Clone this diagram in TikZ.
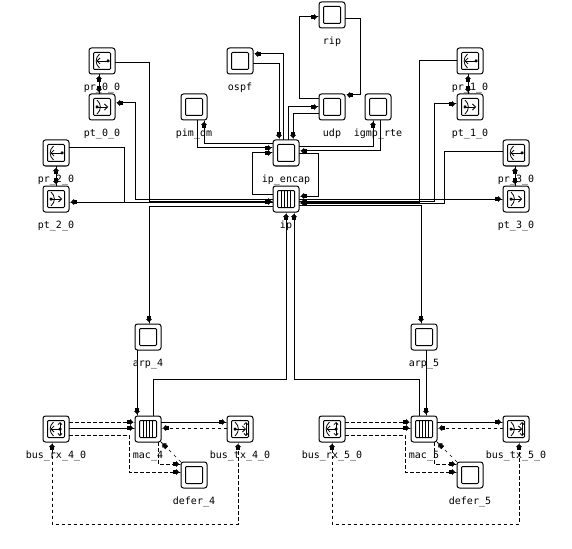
\documentclass[tikz,border=0pt]{standalone}
\usepackage{fontspec}
\usetikzlibrary{arrows.meta,positioning}
\setmonofont{DejaVu Sans Mono}
\newcommand{\inbox}{\draw[line width=1pt,rounded corners=1pt] (-8.5,-8.5) rectangle (8.5,8.5);}
\newcommand{\qbars}{\foreach \bx in {-4.5,-1.5,1.5,4.5} {\draw[line width=1pt] (\bx,-8.5) -- (\bx,8.5);}}
\newcommand{\rxmark}[1]{\draw[line width=.8pt] (-2.5,-7) .. controls (-7,-3) and (-7,3) .. (-2.5,7);
  \draw[line width=.8pt,-{Straight Barb[length=3pt,width=6pt]}] (#1,0) -- (-5.5,0);
  \fill (#1,0) +(-1.5,-1.5) rectangle +(1.5,1.5);}
\newcommand{\txmark}[1]{\draw[line width=.8pt] (-5,-7) .. controls (-.5,-3) and (-.5,3) .. (-5,7);
  \draw[line width=.8pt,-{Straight Barb[length=3pt,width=6pt]}] (-5,0) -- (#1,0);
  \fill (-5,0) +(-1.5,-1.5) rectangle +(1.5,1.5);}
\newcommand{\busmark}[1]{\draw[line width=.8pt,{Straight Barb[length=2pt,width=4pt]}-{Straight Barb[length=2pt,width=4pt]}] (#1,-7) -- (#1,7);}
\tikzset{
  pin/.tip={Rectangle[length=3pt,width=4pt]Triangle[length=3pt,width=6pt]Rectangle[length=2pt,width=1pt]},
  modu/.style={draw,line width=1pt,rounded corners=2.5pt,minimum size=26pt,inner sep=0pt,outer sep=0pt},
  plain/.style={modu,path picture={\begin{scope}[shift={(path picture bounding box.center)}]\inbox\end{scope}}},
  queue/.style={modu,path picture={\begin{scope}[shift={(path picture bounding box.center)}]\inbox\qbars\end{scope}}},
  recv/.style={modu,path picture={\begin{scope}[shift={(path picture bounding box.center)}]\inbox\rxmark{6}\end{scope}}},
  xmit/.style={modu,path picture={\begin{scope}[shift={(path picture bounding box.center)}]\inbox\txmark{6}\end{scope}}},
  busrx/.style={modu,path picture={\begin{scope}[shift={(path picture bounding box.center)}]\inbox\rxmark{4}\busmark{4}\end{scope}}},
  bustx/.style={modu,path picture={\begin{scope}[shift={(path picture bounding box.center)}]\inbox\txmark{6}\busmark{6}\end{scope}}},
  arr/.style={-pin,draw=black,line width=1pt},
  dasharr/.style={arr,dash pattern=on 3.5pt off 2.5pt},
  busarr/.style={pin-pin,draw=black,line width=1pt,dash pattern=on 3.5pt off 2.5pt}
}

\begin{document}
\begin{tikzpicture}[x=1pt,y=-1pt,label distance=9pt,
  every label/.style={font=\ttfamily\fontsize{10pt}{10pt}\selectfont,text height=7pt,text depth=2pt,inner sep=0pt}]
  \useasboundingbox (0,0) rectangle (572,548);
  % core
  \node[plain,label=below:ip\_encap] (ipenc) at (286,153) {};
  \node[queue,label=below:ip,below=20pt of ipenc] (ip) {};
  \node[plain,label=below:udp,above right=20pt and 20pt of ipenc] (udp) {};
  \node[plain,label=below:rip,above=66pt of udp] (rip) {};
  \node[plain,label=below:igmp\_rte,right=20pt of udp] (igmp) {};
  \node[plain,label=below:pim\_dm,above left=20pt and 66pt of ipenc] (pim) {};
  \node[plain,label=below:ospf,above left=66pt and 20pt of ipenc] (ospf) {};
  % point to point links
  \node[xmit,label=below:pt\_0\_0,left=66pt of pim] (pt00) {};
  \node[recv,label=below:pr\_0\_0,above=20pt of pt00] (pr00) {};
  \node[xmit,label=below:pt\_1\_0,right=66pt of igmp] (pt10) {};
  \node[recv,label=below:pr\_1\_0,above=20pt of pt10] (pr10) {};
  \node[xmit,label=below:pt\_2\_0,left=204pt of ip] (pt20) {};
  \node[recv,label=below:pr\_2\_0,above=20pt of pt20] (pr20) {};
  \node[xmit,label=below:pt\_3\_0,right=204pt of ip] (pt30) {};
  \node[recv,label=below:pr\_3\_0,above=20pt of pt30] (pr30) {};
  % bus sides
  \node[plain,label=below:arp\_4,below left=112pt and 112pt of ip] (arp4) {};
  \node[plain,label=below:arp\_5,below right=112pt and 112pt of ip] (arp5) {};
  \node[queue,label=below:mac\_4,below=66pt of arp4] (mac4) {};
  \node[queue,label=below:mac\_5,below=66pt of arp5] (mac5) {};
  \node[busrx,label=below:bus\_rx\_4\_0,left=66pt of mac4] (rx4) {};
  \node[bustx,label=below:bus\_tx\_4\_0,right=66pt of mac4] (tx4) {};
  \node[plain,label=below:defer\_4,below right=20pt and 20pt of mac4] (defer4) {};
  \node[busrx,label=below:bus\_rx\_5\_0,left=66pt of mac5] (rx5) {};
  \node[bustx,label=below:bus\_tx\_5\_0,right=66pt of mac5] (tx5) {};
  \node[plain,label=below:defer\_5,below right=20pt and 20pt of mac5] (defer5) {};
  % routing modules
  \draw[arr] ([yshift=8pt]udp.west) -| (299.5,17) -- ([yshift=-2pt]rip.west);
  \draw[arr] ([yshift=-4pt]rip.east) -| (360,95) -- ([yshift=12pt]udp.east);
  \draw[arr] ([xshift=-3pt]ipenc.north) |- ([yshift=7pt]ospf.east);
  \draw[arr] ([yshift=-3pt]ospf.east) -| ([xshift=-7pt]ipenc.north);
  \draw[arr] ([xshift=2.5pt]ipenc.north) |- (udp.west);
  \draw[arr] ([yshift=-7pt]udp.west) -| ([xshift=7pt]ipenc.north);
  \draw[arr] ([xshift=3pt]pim.south) |- ([yshift=5pt]ipenc.west);
  \draw[arr] ([yshift=9pt]ipenc.west) -| ([xshift=10pt]pim.south);
  \draw[arr] ([yshift=6pt]ipenc.east) -| ([xshift=-5pt]igmp.south);
  \draw[arr] ([xshift=2pt]igmp.south) |- ([yshift=2pt]ipenc.east);
  \draw[arr] ([yshift=5pt]ip.west) -| (252,153) -- (ipenc.west);
  \draw[arr] ([yshift=-1pt]ipenc.east) -| (318,196) -- ([yshift=3pt]ip.east);
  % left links
  \draw[arr] ([yshift=-2pt]pr00.east) -| (149,201) -- ([yshift=-2pt]ip.west);
  \draw[arr] ([yshift=-.5pt]ip.west) -| (135,103) -- ([yshift=4pt]pt00.east);
  \draw[arr] ([yshift=5pt]pr20.east) -| (124,202) -- ([yshift=-3pt]ip.west);
  \draw[arr] ([yshift=-3pt]ip.west) -- ([yshift=-3pt]pt20.east);
  \draw[arr] ([xshift=-3pt]pt00.north) -- ([xshift=-3pt]pr00.south);
  \draw[arr] ([xshift=-3pt]pr00.south) -- ([xshift=-3pt]pt00.north);
  \draw[arr] (pt20.north) -- (pr20.south);
  \draw[arr] (pr20.south) -- (pt20.north);
  % right links
  \draw[arr] (pr10.west) -| (419,202) -- ([yshift=-3pt]ip.east);
  \draw[arr] ([yshift=-2pt]ip.east) -| (434,104) -- ([yshift=3pt]pt10.west);
  \draw[arr] ([yshift=1pt]pr30.west) -| (444,203) -- ([yshift=-4pt]ip.east);
  \draw[arr] (ip.east) -- (pt30.west);
  \draw[arr] ([xshift=-2pt]pt10.north) -- ([xshift=-2pt]pr10.south);
  \draw[arr] ([xshift=-2pt]pr10.south) -- ([xshift=-2pt]pt10.north);
  \draw[arr] ([xshift=-1pt]pt30.north) -- ([xshift=-1pt]pr30.south);
  \draw[arr] ([xshift=-1pt]pr30.south) -- ([xshift=-1pt]pt30.north);
  % ip to the bus sides
  \draw[arr] ([yshift=-7pt]ip.west) -| ([xshift=1pt]arp4.north);
  \draw[arr] ([yshift=-6.5pt]ip.east) -| ([xshift=-3pt]arp5.north);
  \draw[arr] ([xshift=5pt]mac4.north) |- (286,379) -- (ip.south);
  \draw[arr] ([xshift=-5pt]mac5.north) |- (294,379) -- ([xshift=8pt]ip.south);
  \draw[arr] ([xshift=-11pt]arp4.south) -- ([xshift=-11pt]mac4.north);
  \draw[arr] ([xshift=2pt]arp5.south) -- ([xshift=2pt]mac5.north);
  % bus 4
  \draw[dasharr] ([yshift=7pt]rx4.east) -- ([yshift=7pt]mac4.west);
  \draw[arr] ([yshift=1pt]rx4.east) -- ([yshift=1pt]mac4.west);
  \draw[dasharr] ([yshift=-6pt]rx4.east) -| (129,472) -- ([yshift=3pt]defer4.west);
  \draw[dasharr] ([xshift=10pt]mac4.south) |- ([yshift=11pt]defer4.west);
  \draw[arr,dash pattern=on 3pt off 4pt,line width=.7pt] (defer4.north west) -- (mac4.south east);
  \draw[arr] ([yshift=7pt]mac4.east) -- ([yshift=7pt]tx4.west);
  \draw[dasharr] ([yshift=1pt]tx4.west) -- ([yshift=1pt]mac4.east);
  \draw[busarr] ([xshift=-4pt]rx4.south) |- (238,524) -- ([xshift=-2pt]tx4.south);
  % bus 5
  \draw[dasharr] ([yshift=7pt]rx5.east) -- ([yshift=7pt]mac5.west);
  \draw[arr] ([yshift=1pt]rx5.east) -- ([yshift=1pt]mac5.west);
  \draw[dasharr] ([yshift=-6pt]rx5.east) -| (405,472) -- ([yshift=3pt]defer5.west);
  \draw[dasharr] ([xshift=10pt]mac5.south) |- ([yshift=11pt]defer5.west);
  \draw[arr,dash pattern=on 3pt off 4pt,line width=.7pt] (defer5.north west) -- (mac5.south east);
  \draw[arr] ([yshift=7pt]mac5.east) -- ([yshift=7pt]tx5.west);
  \draw[dasharr] ([yshift=1pt]tx5.west) -- ([yshift=1pt]mac5.east);
  \draw[busarr] (rx5.south) |- (519,524) -- ([xshift=3pt]tx5.south);
\end{tikzpicture}
\end{document}
